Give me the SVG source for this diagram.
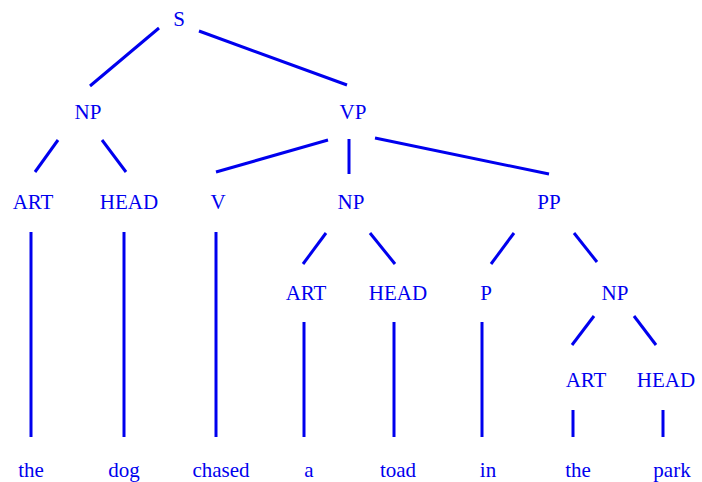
<svg xmlns="http://www.w3.org/2000/svg" width="702" height="482" viewBox="0 0 702 482">
  <style>
    .lbl text { font-size: 21px; fill: #0000ee; text-anchor: middle; }
    .edges line { stroke: #0000ee; stroke-width: 3; stroke-linecap: butt; }
  </style>
  <rect width="702" height="482" fill="#ffffff"/>

  <!-- tree edges -->
  <g id="connectors" class="edges">
    <line x1="159" y1="28" x2="90" y2="86"/>
    <line x1="199" y1="31" x2="347" y2="85"/>
    <line x1="58" y1="140" x2="35" y2="172"/>
    <line x1="102" y1="140" x2="126" y2="172"/>
    <line x1="328" y1="140" x2="216" y2="172"/>
    <line x1="349" y1="139" x2="349" y2="174"/>
    <line x1="375" y1="138" x2="549" y2="174"/>
    <line x1="326" y1="233" x2="303" y2="264"/>
    <line x1="370" y1="233" x2="395" y2="264"/>
    <line x1="514" y1="233" x2="491" y2="264"/>
    <line x1="574" y1="233" x2="597" y2="262"/>
    <line x1="594" y1="316" x2="572" y2="345"/>
    <line x1="634" y1="316" x2="656" y2="345"/>
    <line x1="31" y1="232" x2="31" y2="437"/>
    <line x1="124" y1="232" x2="124" y2="437"/>
    <line x1="216" y1="232" x2="216" y2="437"/>
    <line x1="304" y1="322" x2="304" y2="437"/>
    <line x1="394" y1="322" x2="394" y2="437"/>
    <line x1="482" y1="322" x2="482" y2="437"/>
    <line x1="573" y1="410" x2="573" y2="437"/>
    <line x1="663" y1="410" x2="663" y2="437"/>
  </g>

  <g class="lbl" font-family="Liberation Serif">
    <!-- category labels -->
    <g id="S"><text x="179" y="26">S</text></g>
    <g id="NP1"><text x="88" y="119">NP</text></g>
    <g id="VP"><text x="353" y="119">VP</text></g>
    <g id="ART1"><text x="33" y="209">ART</text></g>
    <g id="HEAD1"><text x="129" y="209">HEAD</text></g>
    <g id="V"><text x="218" y="209">V</text></g>
    <g id="NP2"><text x="351" y="209">NP</text></g>
    <g id="PP"><text x="549" y="209">PP</text></g>
    <g id="ART2"><text x="306" y="300">ART</text></g>
    <g id="HEAD2"><text x="398" y="300">HEAD</text></g>
    <g id="P"><text x="486" y="300">P</text></g>
    <g id="NP3"><text x="615" y="300">NP</text></g>
    <g id="ART3"><text x="586" y="387">ART</text></g>
    <g id="HEAD3"><text x="666" y="387">HEAD</text></g>

    <!-- words -->
    <g id="w-the1"><text x="31" y="477">the</text></g>
    <g id="w-dog"><text x="124" y="477">dog</text></g>
    <g id="w-chased"><text x="221" y="477">chased</text></g>
    <g id="w-a"><text x="309" y="477">a</text></g>
    <g id="w-toad"><text x="398" y="477">toad</text></g>
    <g id="w-in"><text x="488" y="477">in</text></g>
    <g id="w-the2"><text x="578" y="477">the</text></g>
    <g id="w-park"><text x="672" y="477">park</text></g>
  </g>
</svg>
